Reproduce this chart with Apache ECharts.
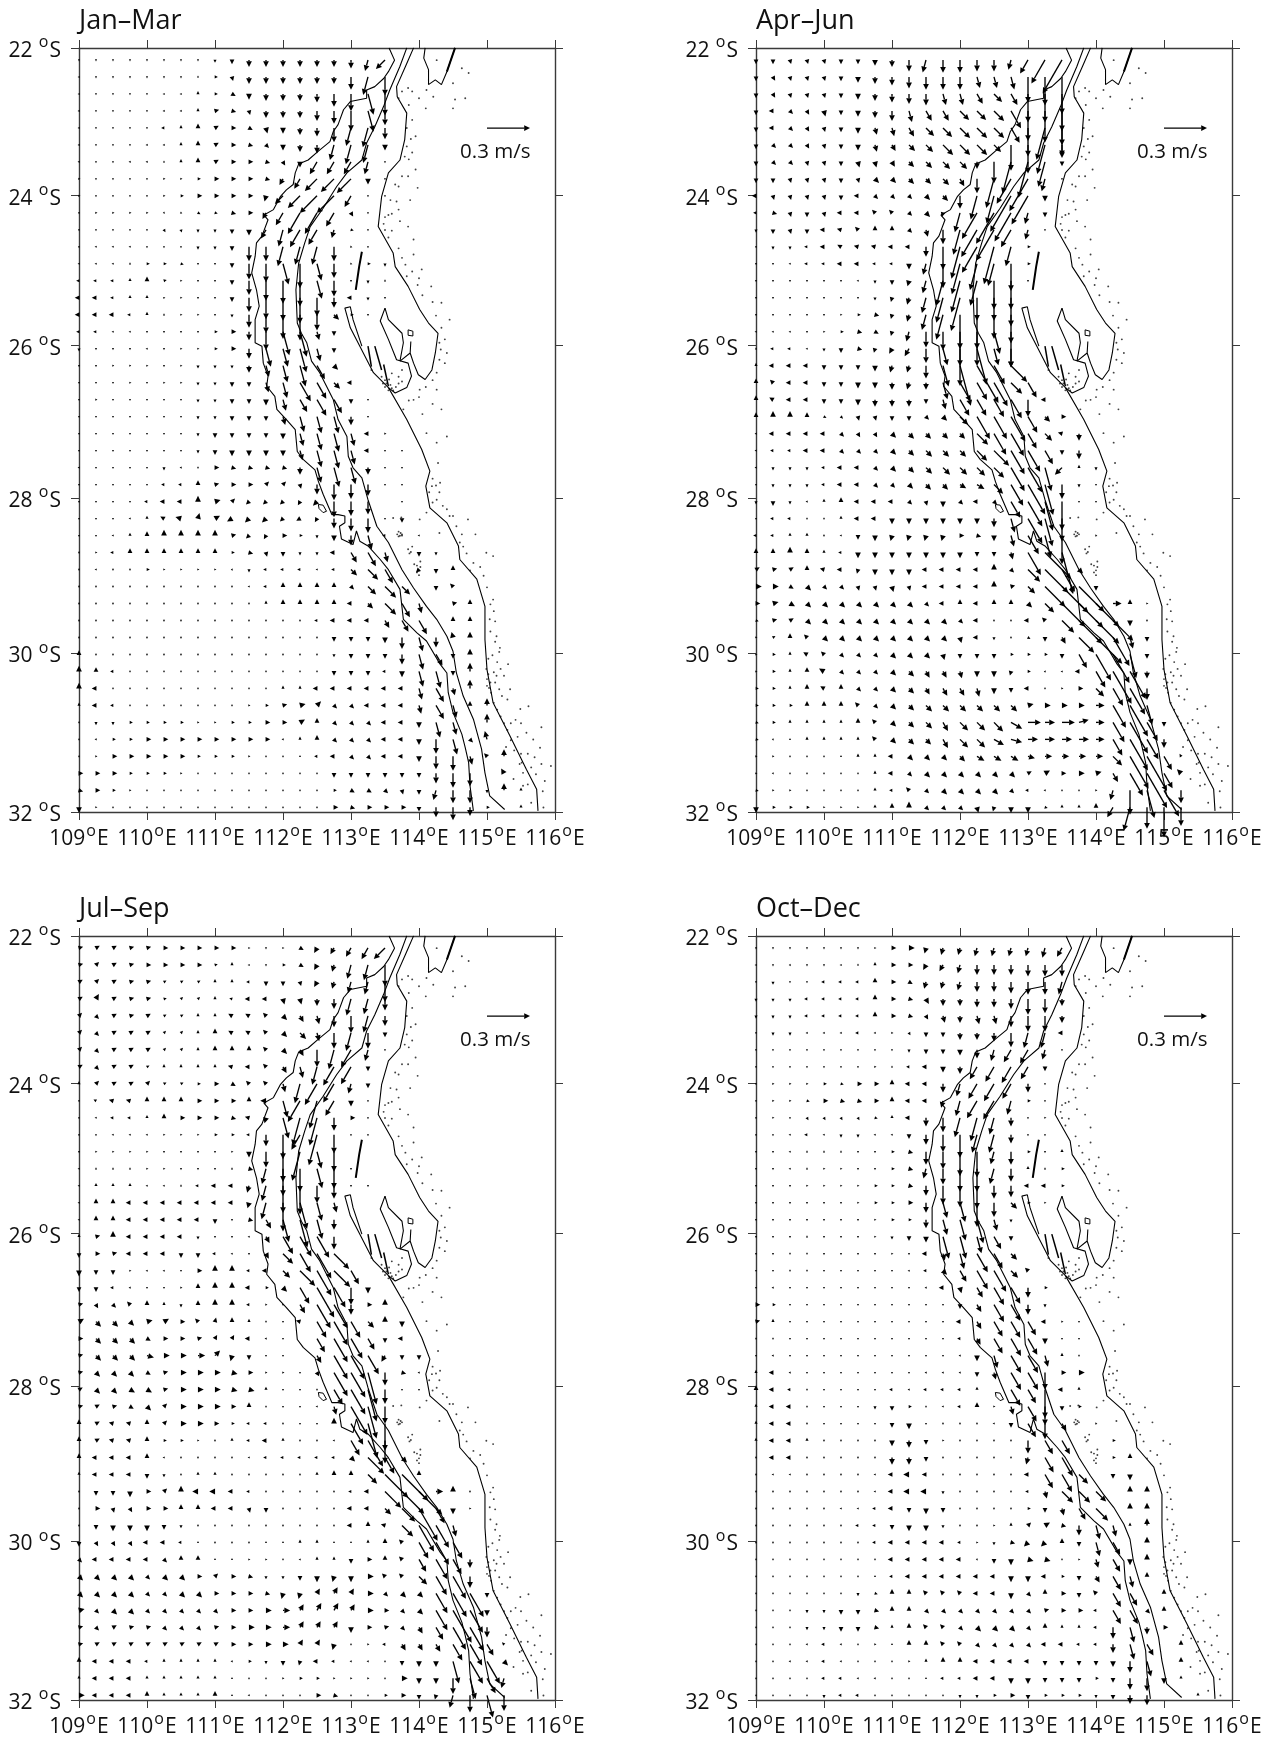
<!DOCTYPE html>
<html><head><meta charset="utf-8">
<style>html,body{margin:0;padding:0;background:#fff}#c{width:1273px;height:1743px}</style>
<script src="https://cdn.jsdelivr.net/npm/echarts@6/dist/echarts.min.js"></script>
</head><body><div id="c"></div>
<script>
// Arrow tokens: letter = compass bearing in 15 degree steps (a=N, g=E, m=S, s=W),
// base-36 digit = speed in cm/s. ".." calm dot, ".n" n calm dots, "--" no arrow.
const panelNames=["Jan–Mar","Apr–Jun","Jul–Sep","Oct–Dec"];
const lonTicks=[109,110,111,112,113,114,115,116];
const latTicks=[22,24,26,28,30,32];
const janMarRows=[
"m1 .. .. .. .. .. .. m1 m2 m3 m5 m5 m5 m5 m5 m5 m6 n8 p9",
"s1 .. .. .. .. .. .. a1 g2 l3 m5 m5 m5 m5 m5 m5 m9 nd md",
"s1 .. .. m1 m1 s1 s1 a2 g2 i3 m4 m5 m5 m5 m6 m9 mc lf mf",
"s1 .. m1 m1 m1 s1 s1 a2 f3 h3 l3 m5 m5 m5 m7 m9 me lf ma",
"s1 .. m1 m1 m1 s2 a2 a3 e3 g3 i3 l4 m4 m5 m6 ma nd ne m8",
"s1 .. .. m1 s1 s1 a2 a3 e3 g3 h3 j3 m4 m5 m6 nb ne nd m4",
"s1 .. .. s1 s1 a1 a2 a3 e3 g3 g3 h3 k3 m4 oa oa oa n9 m1",
"g1 .. .. .. .. g1 g1 g2 g3 g3 g3 h3 o5 o8 pc pd pe m4 m1",
"g1 .. .. .. .. g1 g2 g3 g3 g3 g3 n4 p8 pc ph ph o9 m1 m1",
".. g1 g1 g1 g1 j1 i1 i2 h2 h3 g3 o5 oa oh oh ob k3 m1",
".. .. .. .. .. k2 l2 m2 m2 m3 m4 o7 nc oe oc n6 h2 m1",
".. s1 s1 s1 m1 m1 m1 m2 m2 m3 ma ma ne nd nd ma h1 m1",
"s1 s1 s1 a1 g2 g2 h2 m1 m1 m3 mb md lf mh lc ma h1 g2 m2",
"s2 s2 s2 a2 a3 f2 g1 m1 m1 m3 ma me mg mi ld mb m1 m2 a1",
"s3 s3 s2 a2 a2 f1 g1 m1 m1 m3 ma mf mg mi md m7 s3 m2 m1",
"s3 s3 s3 s2 a2 a1 g1 g1 m1 m2 m9 md mh mi mb j5 g2 m1",
"s2 s2 s1 s1 m1 m1 m1 m1 g2 g3 m6 md lh li l6 m3",
"m2 m1 m1 m1 s1 m1 g1 g1 g2 g3 m7 ld ld lh l9 m3",
"m1 m1 n1 n1 g1 m1 g1 m2 m2 m2 m5 l8 lc lf kb j4",
"m1 m1 m1 g1 m1 g1 g1 m2 m2 m3 m3 l7 lb kf kd j6 s3",
".. g1 .. m1 .. m1 m1 m2 m2 m3 m3 m4 l8 ka kd kb m3 m1",
".. m1 m1 m1 .. m1 m1 m2 m2 m3 m3 m3 l6 lb lc lc m6 m1",
".7 m2 m3 m3 m3 m3 m4 l9 lc ld l9 s3 g1",
".7 m2 m3 m4 m4 m4 m4 l7 lc ld la s3 m1 m1",
"s1 .. .. m1 m1 m2 s1 a1 g3 h3 h3 h3 h3 m5 lb le lc m5 m1 m1",
".. .. .. .. m1 s2 s2 a3 f3 g3 g3 d3 d3 l3 m7 mb ma m8 m1 m1",
".. .. .. m1 s2 s3 s3 a4 f4 d3 p3 p3 p3 o3 p4 mb ma m9 -- m1",
".. .. .. s1 a2 u3 t4 b4 e4 q4 p4 p4 p3 q3 o3 m7 m9 ma m1 m3",
".. .. s1 a2 a3 a4 a4 a4 a4 f3 p3 o3 g3 g2 m2 m4 m7 la s2 a1 s1",
".. g1 s2 a3 a3 a3 a3 a3 a3 g2 h3 l3 m3 m2 m2 s3 k8 kb l7 -- m3 m2",
".. s1 .. a1 g2 g1 g1 g1 g1 l1 m2 s2 s2 s2 s1 s2 j6 ja kb -- p3 m3 a3",
".. .. .. .. m1 m1 .. .. .. .. s1 s2 a3 a3 a3 a3 j3 j8 jb j8 -- m3 v3",
".. .. .. .. .. a1 .. .. .. .. .. a2 a3 a3 a3 a3 s3 j5 jb kb l7 -- f3 a3",
".13 a1 s2 s3 s3 s3 k6 k9 kb -- a3 a3",
".15 m3 m3 m3 m4 m8 la m7 x4 a4",
"a3 .14 m2 m3 m3 m3 m7 lb k9 m3 a4",
"a4 a3 s2 .12 m3 m3 m3 s2 m4 lb lc m3 a6",
"a4 s3 .10 a2 a2 s3 s3 s3 s3 s3 s3 l8 kb l5 a6",
"a2 s3 s2 .7 g1 g2 f3 f4 d4 j3 j3 s3 s3 s3 l6 kb l9 a3 a5",
".. m2 m2 g2 g2 g2 g2 g1 g1 g2 g2 g3 g3 e4 a3 j3 j3 j3 s3 s3 m4 lb l9 -- a6",
".. s1 g2 g2 g3 g3 g3 g3 g3 g3 g3 g3 s1 a2 a3 j3 j3 j3 s3 s3 m4 ma lb j3 x6",
".. g1 g3 g3 g3 g3 g3 g2 g2 g2 g1 .. .. a1 s2 s3 j3 j3 s3 s3 m4 m9 ma l6 v3 a5",
"g3 g3 g3 g2 g2 g2 g1 .8 m3 m3 m3 m3 m3 m3 m7 ma m9 -- w4",
"h3 g3 g2 g1 .11 g2 i3 i3 j3 l3 m3 n7 m9 m9 m2 a5 a2",
"m4 g1 .13 g3 h3 g3 g3 g3 m3 m7 m9 m6 g2 -- a2"];
const aprJunRows=[
"m3 m3 l3 l3 l3 m3 m3 m4 m5 m8 n9 m9 m9 m8 m8 n7 ob oj or",
"m3 k3 l3 l3 l3 m3 m4 m5 m6 m8 m9 m9 m9 l8 l8 l9 mi mk mq",
"m3 k3 l3 l3 l3 m3 m4 m5 m6 m7 m8 l8 l8 k8 j8 k9 mk mk mq",
"m3 s3 j3 k3 l4 m3 m4 m5 m7 l8 k8 k8 j9 j9 ja ke ml mm mo",
"m3 s3 j3 k3 l3 m3 m4 l5 l6 k7 j8 j9 ja ja ja kc mk nn ml",
"m3 j3 j3 k3 l3 m3 m4 l5 k5 j6 j7 ja ja ja j7 mi mk nl m8",
"m3 j3 j3 l3 l3 m3 l4 l4 k4 j5 j6 j7 j7 m5 mf nn nq ni m3",
"m3 m3 l3 l3 l3 m3 l3 j4 j4 j5 j5 j6 k6 ma nl ok oq n9 ..",
"s3 l3 l3 l3 l3 m3 s3 j3 j3 j3 j4 j5 m9 nh nk ot on m4",
"s2 h3 l3 m3 l3 s3 s3 v3 v3 j3 j4 n3 ne ol op on n8 m3",
"m2 m3 l3 m3 s3 t3 v3 a3 a3 j3 l5 ma ni om op oe n7 m1",
"m1 m2 m2 s2 s3 u3 t3 t3 s3 s3 m7 mg nn ol nr ne g2",
"m1 m1 s1 s2 s2 s3 s3 s2 s2 m4 n8 mh nm nj ng mj g2",
".6 s1 m2 m3 n4 n9 ni nn ni mk mk m1",
".7 m2 n3 n5 nb ni no mg mg mk",
".5 g1 g2 h3 n3 n5 nb ni mo mo mh mk",
"s1 s1 s1 m1 g1 g2 h3 i3 n3 n7 mb md mo mo lg mp",
"a1 s2 s2 s1 m2 m3 h3 n3 o4 o6 ma lc mq lq lc md",
"a2 s3 s3 s3 m3 m3 m3 m4 n5 n5 m9 lf lt ku kf jg",
"a3 v3 s3 s3 m3 m3 m4 m4 m5 n5 m5 lc kf ke kj jb kc",
"a3 u3 s3 s3 m3 m3 m4 m5 m5 m5 m3 l7 kd kd ke kf mc s3",
"a3 a4 a4 a3 i2 j2 l3 l3 m3 m3 j3 j4 j8 ki ki kk kd j5 g3",
"s1 s3 s3 s3 s3 j3 k3 k3 j4 j5 j5 j5 j5 jb kh ki kc j7 t3 m5",
"s1 s2 s2 s3 s3 j3 j3 j3 j4 j5 j6 j6 j6 ja jf kj kh kb m3 m6",
"s1 m2 m2 m2 s2 s3 s3 j3 j4 j5 j6 j7 j7 j8 ja kj kk lh p7 a2 m2",
"m1 m2 m2 m2 s2 s3 s3 j3 j3 j4 j5 j5 i5 i6 j9 kh ko lm ma m2 m1",
"m2 m3 m2 s1 a2 a3 s3 s3 s3 j3 l3 m4 j3 s3 j3 kd kk ll mk m1 m1",
"m1 s2 s2 a1 a1 a2 s3 s3 m4 m4 m4 m4 m4 m4 m6 la kk lk mg",
"s2 s2 a2 a2 a1 s1 m3 m4 n4 n4 n4 n4 g3 h3 m4 l8 kf lg mk -- h1",
"a3 a3 a4 a3 a2 s2 m4 m4 m4 m4 m4 m4 m4 m3 m3 l5 ki jq lu",
"e3 f3 e3 a3 t3 s3 n3 m4 m4 m4 s3 s3 s3 s3 a4 j3 jc jn ki j4",
"g4 g4 i3 j4 j3 j3 l3 l3 l4 l3 s3 s3 s3 s3 a4 f3 j7 jk jq jp m3",
"g3 f4 i4 j4 j4 j4 j4 j4 j4 j4 j3 s3 a3 s3 a3 a3 j4 j9 jn jo jn g6 a3 g1",
"h2 f3 e3 j4 j4 j4 j4 j4 j4 j4 j4 j4 j3 s3 a1 a1 s3 v3 jc jn jn jk m4 m1",
"h1 e2 a3 v3 j4 j4 j4 j4 j4 j4 j4 j4 l4 s3 m2 a1 i2 m3 k5 jf jq kn l8 m3",
"g1 g2 a2 u3 v3 j3 j3 j3 j4 j4 j4 l4 m3 m3 m3 g2 g2 g2 m3 kb kl kn lh m3",
"g1 g2 a2 a3 u4 j3 j3 j3 j4 j5 k5 k5 l5 m4 m4 n3 g2 d1 s1 s3 kd kq km m5",
"g2 g2 a2 a3 u3 a3 j3 j3 j4 j5 k5 k6 k6 l6 m4 m3 s3 m1 g1 g3 j8 ke kl m8",
"g2 g2 g2 a3 a3 a3 v3 j3 j4 j5 j6 j6 j6 j6 j6 j6 f4 g4 g4 g4 g6 ki kp le",
"h2 g2 a2 a2 a2 a2 a3 v3 j4 j5 j6 k7 j8 j8 j9 i9 g9 g7 g9 f7 g6 kg kp kf m3",
"h2 l1 a1 a2 a2 a2 a2 v3 j4 j5 j5 k7 j8 j8 i8 h8 g7 g7 g7 g7 g6 kd kp kg m6",
"g1 g1 .. .. .. a1 a2 a2 s3 j4 j4 j4 j5 i6 i6 i6 h5 g5 g5 g5 g5 j9 kq ks kb w2",
"h1 k1 .5 a2 s3 j3 j4 j4 j4 j4 j4 j4 e3 e4 g3 g4 f4 k7 ki ks kc v4",
"h2 g1 g1 .. .. .. .. a2 s2 v3 j3 j4 j4 j4 j4 j3 s2 s1 .. .. g1 n7 mh lk kl m9",
"m4 g2 g2 g2 g1 g1 g1 a2 a3 a4 j3 j3 j3 l4 n3 m4 m4 h2 a2 a2 a3 o8 nh mf ml md"];
const julSepRows=[
"f3 e3 e3 f3 f3 g3 g3 g3 g3 g3 g1 .. g1 i3 o4 o5 o7 o9 pb",
"f3 d3 e3 f3 g3 g3 g3 g3 f2 a2 s1 m1 g2 i3 o4 n5 na nb mf",
"e3 d3 e3 f3 f3 e2 e2 e2 a2 a2 s2 m3 m3 l3 o4 n5 n8 n9 me",
"e3 c4 e3 f3 f3 f2 d2 d2 a2 t2 s3 s3 l4 l4 m5 m7 nc nb m8",
"d3 j3 e3 f3 e3 e2 e2 a2 a2 u3 u3 v3 j4 k5 l6 m8 mc nc m7",
"d3 j3 e3 e3 e3 d2 d2 a2 a3 u3 u3 v3 j4 j6 l6 mb nd mb m3",
"d3 j3 e3 e3 e3 d2 d2 a2 a3 a3 a3 v3 j4 k5 mc ne oe n8 m1",
"e3 j3 e3 e3 e2 a2 a2 a2 a2 t3 s3 v3 k5 l8 nd of oe m3",
"a2 d3 e3 e3 d3 e2 e2 g2 g3 i3 v3 v3 l6 ne oh of n7 m3",
"m1 u2 t3 t3 a3 a3 a3 g3 g3 g3 a3 s4 lc oh nk oc m4 m1",
"m1 s1 s2 s2 a2 a3 g3 g3 g3 h3 t3 n4 lf nk nk m9 g3 m1",
".. m1 s1 s1 s1 g1 g1 g1 g2 g2 s2 m8 mh oc nm md m1 m1",
".. g1 g1 g1 g1 .. .. .. .. g1 m4 mb ml nl lc me",
"s1 a1 a1 a1 g1 g1 .. .. .. a1 h3 nb mj mg le me m1",
"s1 a2 a2 a2 s1 s1 a1 s2 s3 s3 n5 nb mj mk mc m9 m1 m1",
"s1 a3 a3 s3 s3 s3 s3 s3 s3 s3 n4 nc mk lj ld l7",
"s1 a3 a3 s3 s3 s3 s3 s3 m3 m1 h3 k7 lg lk le m7",
"a2 f3 a4 s3 s3 s3 s3 m2 m1 .. s1 k5 ke kg kh m9",
"m3 g3 f3 s3 s3 s3 m3 m3 s2 s1 .. k4 ja kf kk jf",
"m4 m3 m3 g1 s1 s1 m1 g3 a4 a4 s2 s3 j7 jf kk jg kb",
"m3 m3 s2 s1 .. .. g1 a3 a4 a4 s3 g2 j4 kd ko kg mc m4",
"f3 k3 j3 v3 a3 a2 m2 a3 a4 a4 s2 g1 .. k7 kj kj m7 g3 a4",
"e4 j5 j5 j4 f4 e4 g3 v3 b3 a3 a2 a1 .. t3 kd kj kd j6 a4 m4",
"g3 j5 j5 j5 i3 g3 g3 f3 c3 c3 s3 s1 .. -- kb kj kg k9 m3 s3",
"f3 j5 j5 j5 h5 g4 g4 g5 d5 n4 m3 m1 .. -- k6 kj kj kf o5 m3 m3",
"f3 j4 j4 j4 i3 f3 g4 g4 g4 h4 g3 g1 g1 .. k3 kj kk ln m9 h3 s1",
"e3 j4 j4 i4 i4 f3 g4 g4 g4 h4 h4 a2 .. .. a1 kc kk ln ma m1 m1",
"f3 e3 f3 i3 j4 d3 g4 g4 g4 g3 a3 a1 .. .. s1 l6 kn ln mc",
"a3 e3 t3 t3 a3 d3 g4 g4 g3 g2 s2 s2 a1 .. .. a4 kh lp mj",
"a3 e3 t3 t3 a3 g2 g2 g1 a1 a2 s2 s3 a2 .. .. s1 kc kl mg",
"a3 s3 s3 s3 a3 s1 .. .. .. .. s1 s2 s2 s2 s2 s2 j4 jg kd j5",
"a2 s3 s3 s3 m3 m2 a1 a2 a2 a1 .. .. a1 a1 a2 a3 a3 j9 jn jq a3",
"m1 m3 m3 m4 g3 d3 a4 s4 s4 s3 s2 m1 m1 .. m1 a1 s2 s3 jg jm jn g5 a4 m1",
"m1 g3 l3 k3 g3 g3 a3 a3 s3 s3 l3 m3 m1 .. .. .. s3 s3 j6 jd kq kc m4 g1",
"m1 m3 m4 m4 m4 m3 m2 .8 a1 s3 a3 t3 jb kl ki l8",
"m3 k3 k3 k3 s3 s3 s2 a1 .. .. .. a1 a1 a2 a2 a1 a1 a2 a3 v3 kd ki kd",
"j3 s3 s3 s3 s3 j3 a3 a3 a1 a1 g1 g1 m1 s1 a2 a2 m3 g3 a3 v3 ka kg kc m6",
"j4 j4 j4 j4 j3 j4 j4 g3 d3 g3 h3 m2 m2 m3 m4 n4 m4 g4 v3 v3 j8 kf ki m8",
"j4 j4 j4 j4 j3 j3 j4 j4 g3 g3 g3 h3 n4 n4 c4 c5 c4 g4 j3 j4 j4 kg kj kj m3",
"f4 j3 j4 j4 j3 j3 j3 j3 j3 g3 g3 g4 g5 c5 c6 c6 c5 g4 g3 j3 j4 kg kq ki m4",
"f3 j3 e3 f3 f3 j3 j3 j3 f3 g3 g4 g4 g5 c5 c5 c5 m4 g3 f3 j3 k5 ka ki kj m7",
"f3 e3 e3 e3 e3 e3 e3 e3 e3 g3 g3 g4 g4 c4 c4 n4 m1 g1 s2 k5 k5 k6 kd kh k9 v2",
"a3 s3 s3 s3 s2 a2 a2 a2 a2 s1 g2 m2 m3 n3 s3 s2 s1 s1 m1 m3 m4 m4 lg ki ki j4",
"a2 s3 s3 s3 a2 a2 a2 a2 a2 a1 .. .. g1 g2 g2 g1 g1 g1 m1 g4 m4 m4 mb lf kc n7",
"g4 s3 s3 s3 a3 a2 a2 a2 a3 a1 s1 .. .. m1 g3 h3 m1 m1 g2 g3 m3 n3 n9 mc lg mb"];
const octDecRows=[
".7 g1 g3 g4 n4 n5 n5 n6 n6 n6 n6 n7 o7",
"s1 m1 k1 m1 m1 s1 a1 a2 g3 g3 o4 o5 n6 m7 m7 m7 m8 m8 m8",
"m1 m2 m1 m1 s2 s2 s2 a3 g3 i3 n5 n5 n6 m7 m7 m8 m9 m9 n9",
"m2 m2 m2 s2 s2 s2 s2 a3 g3 h3 k4 m5 m5 m6 m6 m7 mb ma m5",
"m2 m2 m2 s2 s2 s2 s2 a3 g3 h3 k3 l5 m5 l6 l6 m8 mb mb m5",
".. m2 m2 s1 s1 s1 s2 s1 g1 k2 m3 m3 m5 m5 m6 ma nb nb s3",
".9 m2 m3 m3 m4 m6 n8 oa ob n7 m1",
".. .. m1 .. .. m1 m1 g1 a1 s2 s3 m4 m5 oa oc od oa m3",
".. g1 g1 g1 g2 h2 g3 g3 a3 s3 s3 m6 n9 oc oe oc m6 m1",
".. g1 g1 h2 g3 h3 h3 g3 a3 s3 s3 n5 nb oe of na g2 m1",
".. g1 m1 k2 k2 k2 k2 h2 a2 s3 m6 ma ne nh nc m6 m1 g1",
".. .. s1 s2 s1 m2 m2 s1 s1 m3 m7 mc mg nd nd m6 m1 m1",
".. .. s1 a1 a1 a1 .. .. g2 h3 m9 mc mh mi n9 m9 g2 m1 a2",
".. .. s1 a1 g1 g1 .. .. g2 h3 n7 mb mg mg nb m9 a2 a1 g2",
".. .. .. g1 g1 g1 g1 g2 g2 h3 m7 md mf mg m9 m8 s3 s3 g2",
".. .. .. m1 m1 m1 g1 g2 g2 g3 m7 lb le mh ma j6 g2 g1",
".7 g1 g2 g2 m6 lb lf lh l8 m2",
".. .. .. a1 .. .. .. g1 m2 m3 m4 lg lg lc ka m3",
".. .. a1 a1 .. .. .. .. g1 m1 s3 l5 lb kf kc j6",
".. .. a1 a1 .. .. .. .. m1 s1 s2 j4 k9 kf kh j7 v3",
".. s1 .8 s1 s3 l4 k8 ke kd m7 g2",
"g3 g2 m1 .8 m1 m3 k6 ke kd m7 m2",
"f3 a2 m1 .9 s3 k6 kc kd kb s3 g1 m1",
"a1 a1 .10 s2 k5 kc ke kd m4 m1 m1",
"m1 s1 .10 s1 m4 l9 ke ke l8 a2 a1",
"a2 s3 s1 .7 s1 s1 s1 m3 l5 ke ke mc g3 g4",
"a3 s3 s2 a1 .. .. .. m1 s2 s1 s2 s2 s2 a2 -- kd kb mk s3 a2",
"a2 s3 s3 a1 .. .. m1 m2 m3 g2 a1 s1 s2 a3 g1 l6 kc md m3 g2",
"a2 s3 s3 a1 .. .. .. m1 m3 m4 m1 a1 a1 a1 s1 m3 kb mb k6 -- h1",
"a2 s3 s3 a2 .. .. .. m1 m4 m5 m3 g1 .. .. .. .. m9 kb kb -- -- g2",
"a1 s3 s3 a1 a1 .. .. m1 m5 m5 m3 .. .. .. .. .. n5 kc kf -- -- g2 a3",
".. s1 s1 a1 .. .. .. s1 s3 s4 s3 m1 .. .. .. .. s3 kb ke j9 -- m3 m4",
".. .. .. a1 .. .. .. s1 s3 s4 s4 m2 .. .. .. .. s2 l5 jb jb ja -- a4 a4",
".5 s1 s1 s2 s3 m3 m4 m3 .. .. .. .. g2 m3 l5 k9 jc -- a4 a4",
".6 s2 s2 m3 m4 m4 m2 .. .. g1 a2 d3 e4 h3 m7 la l8 a2 a5",
".7 s2 s3 s3 s3 s3 s2 g1 m2 h3 p4 p4 a3 m3 la ka -- a4",
".8 s3 s3 s3 s3 s3 l1 m3 m4 h4 h4 .. g1 l6 ka m4 a4",
".7 a1 s2 s3 s3 s3 s3 s3 s3 m4 m4 s3 g2 m3 k5 kb l8 a3",
".5 m1 m2 h2 a3 a3 v3 v3 v3 s3 s3 m4 j3 a3 g3 m3 v3 kb ka -- a3",
"m1 m1 m1 m2 m2 m3 m3 h3 a3 a3 j3 j3 j3 j3 j3 j3 j3 f3 g3 g3 s2 kb kb j3 a3",
"m1 m1 m1 m2 m2 m3 m3 h3 a2 a3 v3 v3 j3 j4 j4 j4 j3 a3 a2 a2 s2 m8 lb m5 g3",
".. m1 m1 s1 s2 s1 m1 g1 a1 a3 a3 v3 v3 j3 j3 j3 j3 s3 s3 s2 s2 m6 lb k9 -- a3",
".. m1 s1 s1 s2 s1 m1 m1 m1 g1 a2 a3 a3 s3 s3 s3 s3 m3 m3 m3 m3 m4 m8 lb -- a3",
".. m1 m1 m1 s2 s2 s1 s1 m1 m1 a1 s2 s2 s3 s3 m4 m4 m3 m3 m3 g2 m3 m8 m9 m4 a2",
".. m1 m1 m1 m2 s2 s2 .. .. .. .. m1 m2 m2 g2 g3 m3 g2 g2 g2 m2 m3 m6 m7 -- -- a2"];

// Map lines as [lon, Mercator-degrees south], the unit of the y axes.
const outerIsobath=[[113.56,22.56],[113.64,22.74],[113.55,22.91],[113.48,23.01],[113.35,23.13],[113.23,23.18],[113.23,23.30],[112.99,23.35],[112.89,23.47],[112.81,23.69],[112.74,23.79],[112.69,23.94],[112.52,24.08],[112.37,24.21],[112.23,24.27],[112.18,24.40],[112.15,24.57],[112.05,24.65],[111.96,24.75],[111.86,24.94],[111.72,25.02],[111.78,25.09],[111.69,25.33],[111.61,25.43],[111.59,25.63],[111.54,25.87],[111.61,26.12],[111.65,26.36],[111.59,26.56],[111.59,26.90],[111.69,26.95],[111.71,27.20],[111.78,27.39],[111.76,27.54],[111.88,27.69],[111.91,27.88],[112.05,28.03],[112.18,28.18],[112.21,28.50],[112.30,28.62],[112.47,28.77],[112.52,28.94],[112.59,29.13],[112.72,29.43],[112.81,29.43],[112.91,29.45],[112.91,29.55],[112.83,29.60],[112.86,29.79],[113.03,29.87],[113.08,29.67],[113.13,29.82],[113.25,29.89],[113.43,30.09],[113.55,30.24],[113.72,30.53],[113.77,30.97],[113.97,31.17],[114.11,31.29],[114.31,31.63],[114.41,31.76],[114.43,32.05],[114.50,32.34],[114.63,32.66],[114.68,32.86],[114.73,33.08],[114.75,33.42],[114.80,33.79]];
const innerIsobath=[[113.82,22.56],[113.72,22.83],[113.57,23.18],[113.48,23.42],[113.35,23.72],[113.23,23.96],[113.16,24.21],[112.94,24.40],[112.79,24.60],[112.59,24.92],[112.40,25.19],[112.32,25.43],[112.23,25.73],[112.19,26.12],[112.21,26.61],[112.27,26.76],[112.35,26.90],[112.42,27.17],[112.54,27.34],[112.64,27.54],[112.74,27.74],[112.81,28.03],[112.94,28.28],[112.96,28.57],[113.03,28.74],[113.16,28.89],[113.25,29.21],[113.38,29.60],[113.55,29.84],[113.75,30.24],[113.92,30.51],[114.11,30.78],[114.26,30.97],[114.41,31.22],[114.50,31.44],[114.55,31.76],[114.65,32.10],[114.80,32.44],[114.92,32.88],[114.97,33.23],[115.04,33.57],[115.26,33.77]];
const northCoast=[[113.92,22.56],[113.82,22.79],[113.67,23.13],[113.68,23.28],[113.82,23.52],[113.79,23.91],[113.72,24.21],[113.55,24.40],[113.45,24.75],[113.40,25.19],[113.62,25.58],[113.65,25.78],[113.84,26.07],[114.01,26.41],[114.14,26.61],[114.28,26.76],[114.24,27.05],[114.19,27.30],[114.09,27.44],[113.99,27.37],[113.92,27.20],[113.87,27.05],[113.88,26.88],[113.87,27.05],[113.72,27.17]];
const sharkBayCoast=[[113.50,26.39],[113.43,26.58],[113.55,26.85],[113.67,27.15],[113.84,27.20],[113.89,27.39],[113.82,27.56],[113.65,27.64],[113.55,27.56],[113.33,27.34],[113.13,26.95],[112.99,26.68],[112.91,26.39],[112.99,26.37],[113.03,26.56],[113.16,26.95]];
const peronCoast=[[113.50,26.39],[113.55,26.56],[113.75,26.76],[113.77,26.90],[113.72,27.17]];
const southCoast=[[113.55,27.56],[113.82,28.03],[114.04,28.47],[114.16,28.79],[114.10,29.01],[114.16,29.33],[114.41,29.55],[114.58,29.89],[114.60,30.09],[114.85,30.38],[114.97,30.78],[114.97,31.27],[115.00,31.71],[115.09,32.20],[115.34,32.69],[115.58,33.18],[115.73,33.47],[115.75,33.79]];
const capeCoast=[[114.09,22.56],[114.07,22.71],[114.14,22.88],[114.14,23.10],[114.24,23.03],[114.33,23.10],[114.41,22.91],[114.53,22.56]];
const slimIsland=[[113.16,25.56],[113.12,25.78],[113.07,26.12]];
const loopIslandA=[[112.52,29.28],[112.59,29.29],[112.64,29.38],[112.59,29.40],[112.53,29.34],[112.52,29.28]];
const loopIslandB=[[113.84,26.71],[113.91,26.73],[113.91,26.80],[113.84,26.79],[113.84,26.71]];
const inletA=[[113.25,26.95],[113.30,27.25]];
const inletB=[[113.35,26.95],[113.45,27.30]];
const inletC=[[113.48,27.22],[113.55,27.54]];
const capeHeavy=[[114.53,22.56],[114.41,22.91]];
const nearshoreDots=[[114.26,22.74],[114.63,22.86],[114.73,22.93],[114.50,23.08],[113.84,23.15],[114.11,23.18],[114.21,23.28],[114.68,23.30],[114.53,23.32],[114.50,23.45],[113.90,23.62],[113.82,23.74],[113.95,23.86],[113.82,24.01],[113.79,24.16],[113.95,24.35],[113.84,24.45],[113.65,24.57],[113.98,24.62],[113.67,24.82],[113.87,24.80],[113.55,25.02],[113.70,24.94],[113.72,25.11],[113.50,25.24],[113.84,25.19],[113.92,25.38],[113.70,25.51],[113.92,25.60],[114.04,25.82],[113.82,25.92],[114.18,26.07],[113.98,26.05],[114.33,26.31],[114.45,26.56],[114.33,26.68],[114.38,26.85],[114.41,27.05],[114.38,27.20],[114.26,27.34],[114.01,27.59],[114.26,27.59],[113.92,27.74],[114.33,27.88],[113.77,27.88],[113.45,27.40],[113.50,27.45],[113.52,27.50],[113.58,27.52],[113.60,27.57],[113.55,27.60],[113.62,27.60],[113.66,27.55],[113.50,27.55],[113.47,27.50],[113.56,27.44],[113.60,27.35],[113.70,27.40],[113.75,27.30],[113.70,27.50],[113.75,27.47],[113.30,27.30],[114.11,28.23],[114.26,28.37],[114.41,28.28],[114.28,28.67],[114.31,28.96],[114.19,29.01],[114.26,29.21],[114.41,29.35],[114.50,29.45],[114.72,29.50],[113.62,29.48],[114.01,29.50],[114.11,29.40],[114.30,29.70],[114.63,29.72],[114.83,29.72],[114.60,29.84],[114.99,29.99],[115.09,30.04],[114.80,30.14],[114.95,30.33],[115.09,30.68],[115.04,30.97],[115.14,31.22],[115.19,31.39],[115.31,31.63],[115.14,31.80],[115.34,32.00],[115.49,32.29],[115.61,32.25],[115.58,32.64],[115.68,32.74],[115.80,32.56],[115.78,32.86],[115.94,33.13],[115.53,33.23],[115.85,33.35],[115.51,33.08],[115.39,33.32],[115.53,33.42],[115.65,33.67],[115.83,33.74],[113.70,29.68],[113.73,29.70],[113.75,29.72],[113.72,29.74],[113.68,29.72],[113.70,29.75],[113.74,29.47],[113.84,29.94],[113.88,29.98],[113.86,30.00],[113.90,29.90],[113.97,30.18],[114.02,30.20],[114.00,30.25],[113.97,30.28],[114.02,30.12],[113.93,30.16],[114.00,30.32],[114.99,31.70],[115.02,31.78],[115.00,31.85],[115.05,31.90],[115.03,31.98],[115.06,32.05],[115.00,31.95],[115.10,31.75],[115.15,31.60],[115.18,32.00],[115.10,32.20],[115.15,32.30],[115.25,32.50],[115.30,32.60],[115.35,32.75],[115.28,32.85],[115.40,32.90],[115.20,32.40]];
const nearshoreDotsExtra=[[114.20,28.90],[114.25,29.00],[114.15,29.10],[114.30,29.10],[114.20,29.25],[114.35,29.30],[114.45,29.45],[114.55,29.60],[114.65,29.90],[114.70,30.00],[114.75,30.25],[114.90,30.20],[115.00,30.50],[115.05,30.75],[115.10,30.85],[115.12,31.00],[115.05,31.15],[115.12,31.30],[115.18,31.45],[115.08,31.50],[115.02,31.55],[115.20,31.70],[115.25,31.80],[115.12,31.90],[115.22,32.10],[115.30,32.15],[115.42,32.45],[115.35,32.50],[115.50,32.50],[115.45,32.70],[115.50,32.95],[115.60,32.95],[115.70,33.00],[115.65,33.15],[115.72,33.25],[115.80,33.10],[115.48,33.10],[115.60,33.40],[115.82,33.50],[113.70,23.30],[113.75,23.20],[113.90,23.20],[114.00,23.30],[114.10,23.45],[113.85,23.40],[113.88,23.90],[113.85,24.20],[113.90,24.10],[113.75,24.45],[113.70,24.60],[113.58,24.80],[113.60,25.00],[113.50,25.05],[113.48,25.15],[113.60,25.25],[113.55,25.35],[113.75,25.65],[113.80,25.75],[113.90,25.85],[114.00,25.95],[114.05,26.20],[114.20,26.30],[114.25,26.50],[114.30,26.90],[114.32,27.00],[114.30,27.15],[114.20,27.45],[114.10,27.55],[114.00,27.70],[113.85,27.75],[114.05,27.95],[114.20,27.80]];
const keyArrow=[115.0,23.74,90,30];
const keyLabel=[115.64,24.10,"0.3 m/s"];

const FONT='"Open Sans","Noto Sans",sans-serif', INK='#111', AXIS='#3a3a3a';
const PX_PER_CM=43/30;           // 0.3 m/s key arrow spans 43 px
const merc=lat=>Math.log(Math.tan(Math.PI/4+lat*Math.PI/360))*180/Math.PI;
const MTOP=merc(22), MBOT=merc(32), ROW0=MTOP+0.176, STEP=0.25;
const panelLeft=[79,756,79,756], panelTop=[48,48,936,936], W=476, H=764;

function parseRows(rows){
  const out=[];
  rows.forEach((row,r)=>{
    let c=0;
    row.split(' ').forEach(t=>{
      if(t==='--'){c++;return;}
      if(t[0]==='.'){
        const n=t==='..'?1:parseInt(t.slice(1));
        for(let i=0;i<n;i++,c++) out.push([109+c*STEP,ROW0+r*STEP,180,1]);
        return;
      }
      out.push([109+c*STEP,ROW0+r*STEP,(t.charCodeAt(0)-97)*15,parseInt(t[1],36)]);
      c++;
    });
  });
  return out;
}
function renderArrow(params,api){
  const p=api.coord([api.value(0),api.value(1)]);
  const a=api.value(2)*Math.PI/180, L=api.value(3)*PX_PER_CM;
  const ux=Math.sin(a), uy=-Math.cos(a);
  const tip=[p[0]+ux*L,p[1]+uy*L];
  const hl=Math.min(5.8,Math.max(L*1.1,2.1)), hw=hl*0.5;
  const bx=tip[0]-ux*hl, by=tip[1]-uy*hl;
  const kids=[{type:'polygon',shape:{points:[tip,[bx-uy*hw,by+ux*hw],[bx+uy*hw,by-ux*hw]]},style:{fill:'#000'}}];
  if(L>hl) kids.push({type:'line',shape:{x1:p[0],y1:p[1],x2:bx,y2:by},style:{stroke:'#000',lineWidth:1.35}});
  return {type:'group',children:kids};
}
const lineSets=[[outerIsobath,1.1],[innerIsobath,1.1],[northCoast,1.1],[sharkBayCoast,1.1],[peronCoast,1.1],[southCoast,1.1],[capeCoast,1.1],[slimIsland,2],[loopIslandA,1],[loopIslandB,1],[inletA,1.5],[inletB,1.5],[inletC,1.5],[capeHeavy,2]];
const allDots=nearshoreDots.concat(nearshoreDotsExtra);
const tickLine={lineStyle:{color:AXIS,width:1}};
const axisLn={show:true,onZero:false,lineStyle:{color:AXIS,width:1.4}};
const rich={n:{fontFamily:FONT,fontSize:21,color:INK},o:{fontFamily:FONT,fontSize:16,color:INK,padding:[0,1,17,1]}};
const opt={animation:false,backgroundColor:'#fff',title:[],grid:[],xAxis:[],yAxis:[],series:[]};
[janMarRows,aprJunRows,julSepRows,octDecRows].forEach((rows,i)=>{
  opt.title.push({text:panelNames[i],left:panelLeft[i],top:panelTop[i]-40,padding:0,textStyle:{fontFamily:FONT,fontSize:27,fontWeight:'normal',color:INK}});
  opt.grid.push({left:panelLeft[i],top:panelTop[i],width:W,height:H,containLabel:false});
  const xb={gridIndex:i,type:'value',min:109,max:116,interval:1,position:'bottom',splitLine:{show:false},axisLine:axisLn,
    axisTick:{show:true,length:8,...tickLine},
    axisLabel:{show:true,margin:11,rich,formatter:v=>`{n|${v}}{o|o}{n|E}`}};
  opt.xAxis.push(xb,{...xb,position:'top',axisLabel:{show:false}});
  const yVals=latTicks.map(merc);
  const yl={gridIndex:i,type:'value',inverse:true,min:MTOP,max:MBOT,position:'left',splitLine:{show:false},axisLine:axisLn,
    axisTick:{show:true,length:8,customValues:yVals,...tickLine},
    axisLabel:{show:true,margin:18,padding:[6,0,0,0],customValues:yVals,rich,
      formatter:v=>{const k=yVals.findIndex(y=>Math.abs(y-v)<1e-6);return `{n|${latTicks[k]} }{o|o}{n|S}`;}}};
  opt.yAxis.push(yl,{...yl,position:'right',axisLabel:{show:false}});
  const xi=i*2, yi=i*2;
  lineSets.forEach(([pts,w])=>opt.series.push({type:'line',xAxisIndex:xi,yAxisIndex:yi,data:pts,showSymbol:false,silent:true,z:2,
    lineStyle:{color:'#000',width:w},clip:false}));
  opt.series.push({type:'scatter',xAxisIndex:xi,yAxisIndex:yi,data:allDots,symbolSize:1.9,silent:true,z:2,itemStyle:{color:'#111'}});
  opt.series.push({type:'custom',xAxisIndex:xi,yAxisIndex:yi,data:parseRows(rows).concat([keyArrow]),renderItem:renderArrow,silent:true,clip:false,z:3,progressive:0,
    encode:{x:0,y:1}});
  opt.series.push({type:'custom',xAxisIndex:xi,yAxisIndex:yi,data:[keyLabel],silent:true,z:3,encode:{x:0,y:1},
    renderItem:(params,api)=>{const p=api.coord([api.value(0),api.value(1)]);
      return {type:'text',style:{x:p[0],y:p[1],text:keyLabel[2],textAlign:'right',textVerticalAlign:'middle',fontFamily:FONT,fontSize:20.5,fill:INK}};}});
});
const chart=echarts.init(document.getElementById('c'),null,{renderer:'canvas'});
chart.setOption(opt);
</script></body></html>
